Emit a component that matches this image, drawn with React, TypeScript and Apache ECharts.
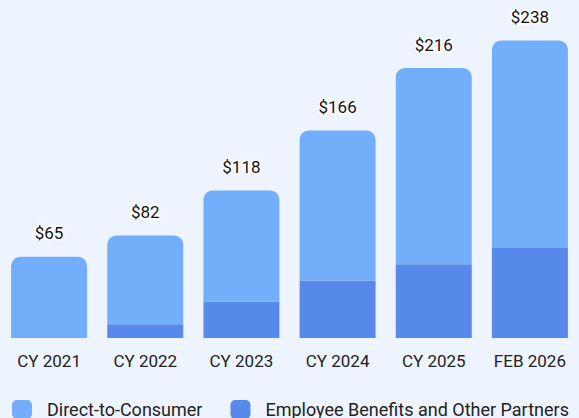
import React, { useEffect, useRef } from "react";
import * as echarts from "echarts";

const categories = ["CY 2021", "CY 2022", "CY 2023", "CY 2024", "CY 2025", "FEB 2026"];
const totals = [65, 82, 118, 166, 216, 238];
const employeeBenefits = [0, 11, 29, 46, 59, 72];
const directToConsumer = [65, 71, 89, 120, 157, 166];

const LIGHT = "#73aefa";
const DARK = "#5689ea";
const BG = "#eef4fe";

export default function App() {
  const ref = useRef<HTMLDivElement>(null);
  useEffect(() => {
    if (!ref.current) return;
    const chart = echarts.init(ref.current, undefined, { renderer: "svg" });
    chart.setOption({
      animation: false,
      backgroundColor: BG,
      textStyle: { fontFamily: "Roboto" },
      grid: { left: 1, right: 1, top: 38, bottom: 80, containLabel: false },
      legend: {
        left: 12,
        top: 400,
        padding: 0,
        itemWidth: 20,
        itemHeight: 19,
        itemGap: 28,
        icon: "roundRect",
        textStyle: { fontSize: 18, color: "#222", fontFamily: "Roboto", padding: [0, 0, 0, 10] },
        data: ["Direct-to-Consumer", "Employee Benefits and Other Partners"],
      },
      xAxis: {
        type: "category",
        data: categories,
        axisLine: { show: false },
        axisTick: { show: false },
        axisLabel: { fontSize: 17, color: "#222", margin: 14, fontFamily: "Roboto" },
      },
      yAxis: {
        type: "value",
        min: 0,
        max: 240,
        show: false,
        splitLine: { show: false },
      },
      series: [
        {
          name: "Employee Benefits and Other Partners",
          type: "bar",
          stack: "total",
          barCategoryGap: "21%",
          data: employeeBenefits,
          itemStyle: { color: DARK },
        },
        {
          name: "Direct-to-Consumer",
          type: "bar",
          stack: "total",
          barCategoryGap: "21%",
          data: directToConsumer,
          itemStyle: { color: LIGHT, borderRadius: [9, 9, 0, 0] },
          label: {
            show: true,
            position: "top",
            distance: 15,
            fontSize: 17,
            color: "#111",
            fontFamily: "Roboto",
            textBorderColor: "#ffffff",
            textBorderWidth: 3,
            formatter: (p: any) => "$" + totals[p.dataIndex],
          },
        },
      ],
    });
    return () => chart.dispose();
  }, []);
  return (
    <div
      ref={ref}
      style={{ position: "fixed", left: 0, top: 0, width: 579, height: 418, background: BG }}
    />
  );
}
